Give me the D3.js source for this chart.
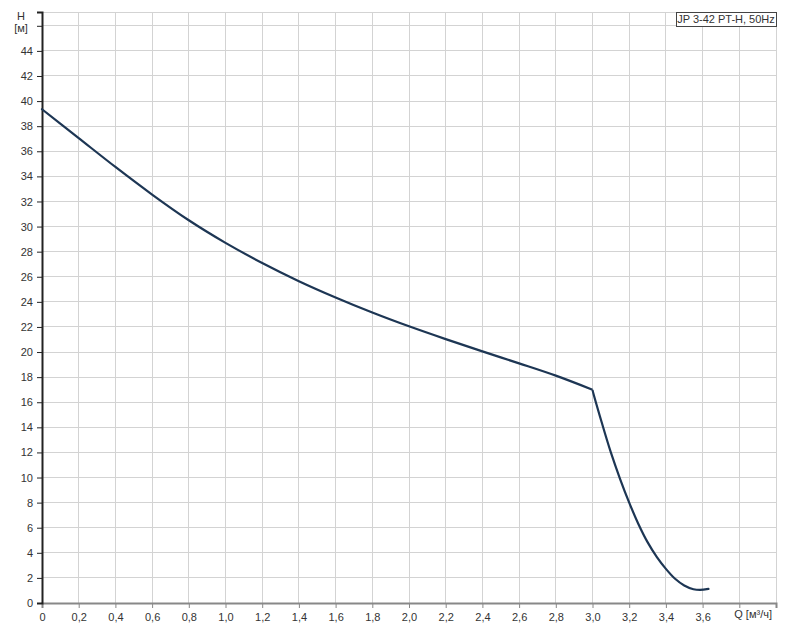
<!DOCTYPE html>
<html>
<head>
<meta charset="utf-8">
<script src="https://cdn.jsdelivr.net/npm/d3@7"></script>
<style>
  html, body { margin: 0; padding: 0; background: #fff; }
  svg { display: block; }
  text { font-family: "Liberation Sans", Arial, sans-serif; font-size: 11px; fill: #333; }
</style>
</head>
<body>
<svg id="chart" width="789" height="630"></svg>
<script>
// Data: upper branch up to the knee at Q = 3.0, then the steep branch
const flowQ = [0, 0.2, 0.4, 0.6, 0.8, 1.0, 1.2, 1.4, 1.6, 1.8, 2.0, 2.2, 2.4, 2.6, 2.8, 3.0,
               3.05, 3.1, 3.15, 3.2, 3.25, 3.3, 3.35, 3.4, 3.45, 3.5, 3.55, 3.586, 3.632];
const headH = [39.35, 37.05, 34.75, 32.55, 30.5, 28.7, 27.1, 25.65, 24.35, 23.15, 22.05, 21.03, 20.05, 19.1, 18.12, 17.0,
               14.4, 12.0, 9.9, 8.0, 6.3, 4.85, 3.68, 2.72, 1.93, 1.4, 1.1, 1.04, 1.12];
const kneeIndex = 15;
const xTicks = d3.range(0, 21).map(i => +(i * 0.2).toFixed(1));
const yTicks = d3.range(0, 24).map(i => i * 2);
const xLabelMax = 3.6;
const yLabelMax = 44;
const legendText = "JP 3-42 PT-H, 50Hz";
const xAxisTitle = "Q [м³/ч]";
const yAxisTitle = ["H", "[м]"];

const svg = d3.select("#chart");
const mLeft = 42, mRight = 776, mTop = 12, mBottom = 603;

const x = d3.scaleLinear().domain([0, 4]).range([mLeft, mRight]);
const y = d3.scaleLinear().domain([0, 47.1]).range([mBottom, mTop]);

const fmt = v => v === 0 ? "0" : v.toFixed(1).replace(".", ",");

// grid
const grid = svg.append("g");
grid.selectAll("line.v").data(xTicks.filter(d => d > 0)).join("line")
  .attr("x1", d => x(d)).attr("x2", d => x(d))
  .attr("y1", mTop).attr("y2", mBottom)
  .attr("stroke", "#d3d3d3").attr("stroke-width", 1).attr("shape-rendering", "crispEdges");
grid.selectAll("line.h").data(yTicks.filter(d => d > 0).concat([47.1])).join("line")
  .attr("x1", mLeft).attr("x2", mRight)
  .attr("y1", d => y(d)).attr("y2", d => y(d))
  .attr("stroke", "#d3d3d3").attr("stroke-width", 1).attr("shape-rendering", "crispEdges");

// x axis
const xAxis = d3.axisBottom(x).tickValues(xTicks).tickSize(5)
  .tickFormat(d => d <= xLabelMax + 1e-9 ? fmt(d) : "");
const gx = svg.append("g").attr("transform", `translate(0,${mBottom})`).call(xAxis);
gx.select(".domain").attr("stroke", "#888").attr("stroke-width", 2);
gx.selectAll(".tick line").attr("stroke", "#888");
gx.selectAll(".tick text").attr("dy", "0.9em").style("font-size", "11px").attr("fill", "#333");

// y axis
const yAxis = d3.axisLeft(y).tickValues(yTicks).tickSize(5)
  .tickFormat(d => d <= yLabelMax ? String(d) : "");
const gy = svg.append("g").attr("transform", `translate(${mLeft},0)`).call(yAxis);
gy.select(".domain").attr("stroke", "#222").attr("stroke-width", 2);
gy.selectAll(".tick line").attr("stroke", "#222");
gy.selectAll(".tick text").attr("x", -9).style("font-size", "11px").attr("fill", "#333");

// axis titles
svg.append("text").attr("x", 21).attr("y", 20).attr("text-anchor", "middle").text(yAxisTitle[0]);
svg.append("text").attr("x", 21).attr("y", 32).attr("text-anchor", "middle").text(yAxisTitle[1]);
svg.append("text").attr("x", 772).attr("y", 618).attr("text-anchor", "end").text(xAxisTitle);

// curve: two smooth branches meeting at a sharp knee
const pts = flowQ.map((q, i) => [q, headH[i]]);
const upper = pts.slice(0, kneeIndex + 1);
const lower = pts.slice(kneeIndex);
const lineUpper = d3.line().x(d => x(d[0])).y(d => y(d[1])).curve(d3.curveMonotoneX);
const lineLower = d3.line().x(d => x(d[0])).y(d => y(d[1])).curve(d3.curveCatmullRom.alpha(0.5));
svg.append("path").attr("d", lineUpper(upper) + lineLower(lower).replace(/^M[^A-Za-z]*/, "L" + x(lower[0][0]) + "," + y(lower[0][1])))
  .attr("fill", "none").attr("stroke", "#1d3654").attr("stroke-width", 2.2)
  .attr("stroke-linejoin", "miter").attr("stroke-linecap", "round");

// legend box
const lg = svg.append("g");
const bw = 100, bh = 14.5;
lg.append("rect").attr("x", mRight - bw).attr("y", mTop).attr("width", bw).attr("height", bh)
  .attr("fill", "#fff").attr("stroke", "#444").attr("stroke-width", 1).attr("shape-rendering", "crispEdges");
lg.append("text").attr("x", mRight - bw / 2).attr("y", mTop + 11).attr("text-anchor", "middle").text(legendText);
</script>
</body>
</html>
